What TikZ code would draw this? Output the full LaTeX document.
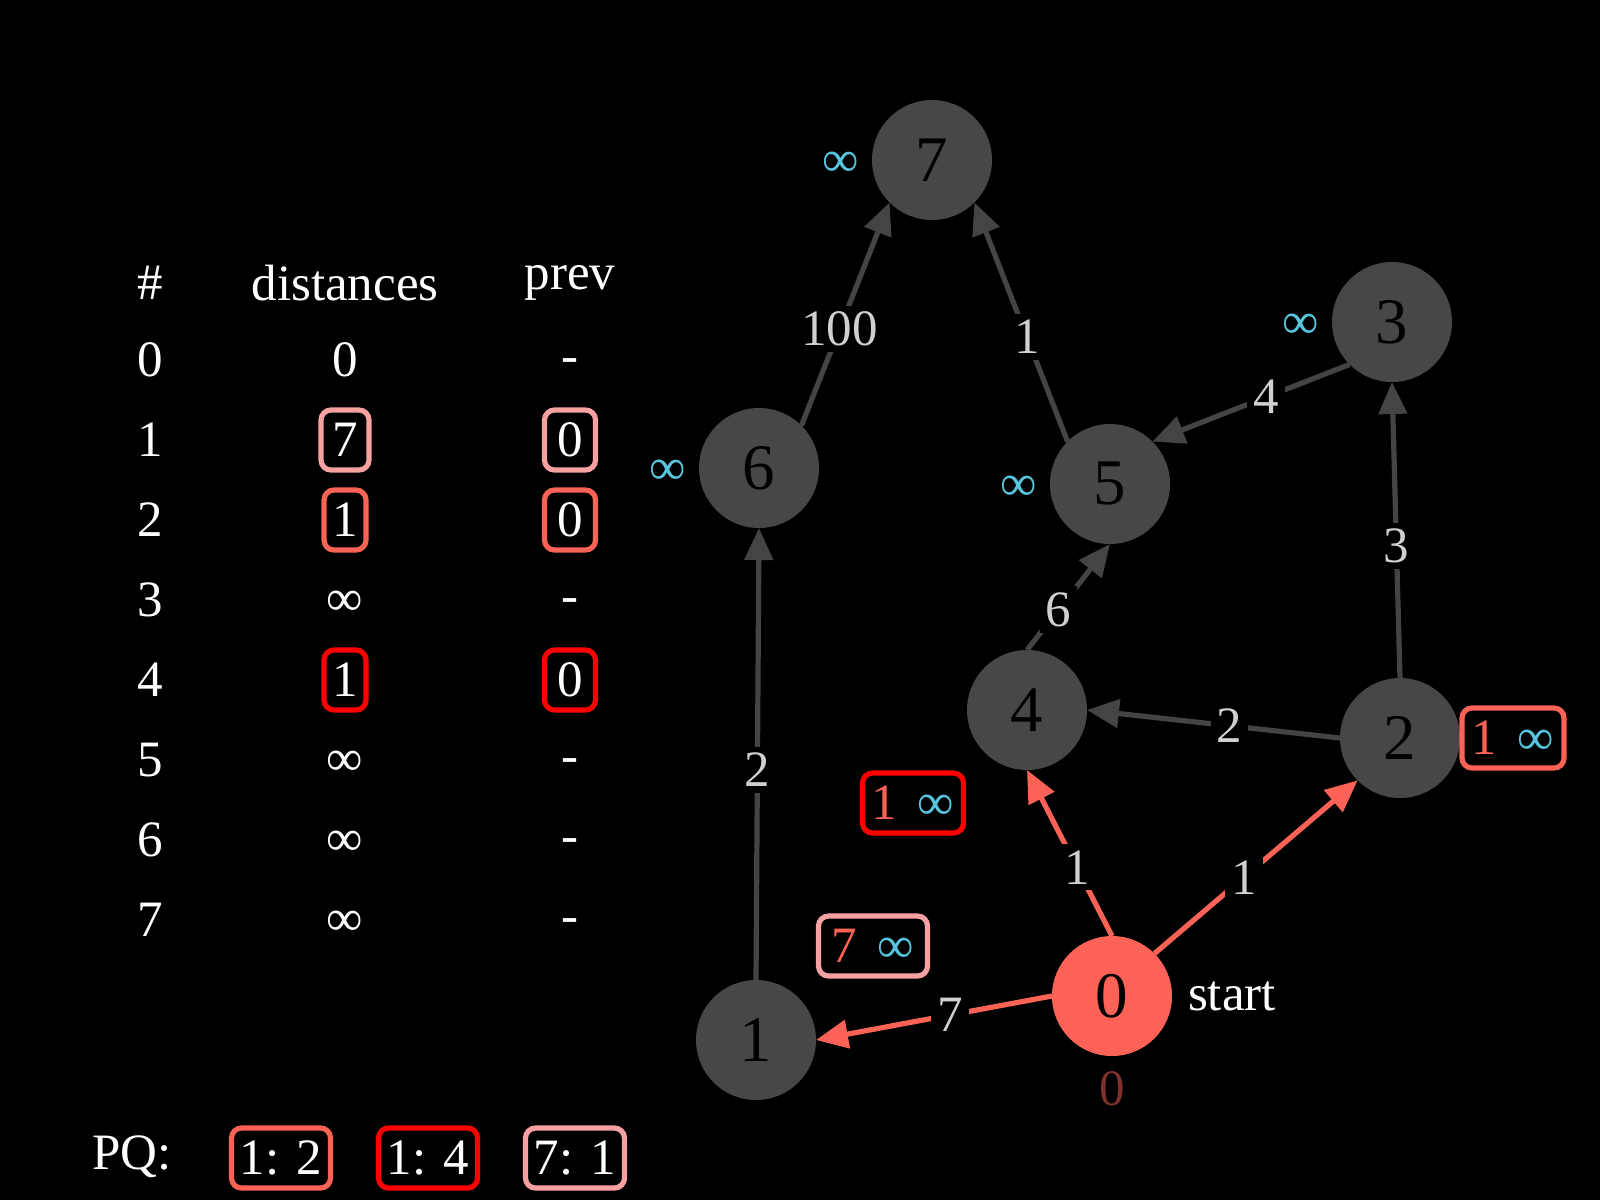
\documentclass[tikz,border=0pt]{standalone}
\usepackage{fontspec}
\setmainfont{Liberation Serif}
\usetikzlibrary{arrows.meta}
\definecolor{ngray}{HTML}{474747}
\definecolor{egray}{HTML}{444444}
\definecolor{mred}{HTML}{FC6255}
\definecolor{mpink}{HTML}{F7A1A3}
\definecolor{pred}{HTML}{FF0000}
\definecolor{mblue}{HTML}{58C4DD}
\definecolor{lbl}{HTML}{D0D0D0}
\definecolor{dred}{HTML}{7E312B}
\newcommand{\bigfnt}{\fontsize{32.5}{39}\selectfont}
\newcommand{\smfnt}{\fontsize{25.5}{30}\selectfont}
\tikzset{
  vert/.style={circle, fill=ngray, minimum size=60pt, inner sep=0pt, outer sep=0pt, font=\bigfnt, text=black},
  txt/.style={font=\smfnt, text=white, inner sep=0pt},
  inflbl/.style={font=\smfnt, text=mblue, inner sep=0pt},
  bx/.style={draw, line width=2.6pt, rounded corners=5pt, inner sep=0pt, minimum height=30pt, font=\smfnt, text=white},
  edg/.style={color=egray, line width=2.6pt, -{Triangle[length=16pt,width=14pt]}},
  redg/.style={edg, color=mred},
  wl/.style={font=\smfnt, text=lbl, fill=black, inner sep=3pt}
}
\newcommand{\dpair}[1]{{\color{mred}#1}\hspace{0.4em}{\color{mblue}∞}}
\begin{document}
\begin{tikzpicture}[x=0.5pt,y=-0.5pt]
\fill[black] (0,0) rectangle (1600,1200);
\useasboundingbox (0,0) rectangle (1600,1200);

% table header
\node[txt] (h0) at (150,283) {\#};
\node[txt] (h1) at (345,283) {distances};
\node[txt] (h2) at (570,283) {prev};
% rows
\node[txt] (r0) at (150,360) {0};
\node[txt] (d0) at (345,360) {0};
\node[txt] (p0) at (570,366) {-};
\node[txt] (r1) at (150,440) {1};
\node[bx, draw=mpink, minimum width=24pt] (d1) at (345,440) {7};
\node[bx, draw=mpink, minimum width=25.5pt] (p1) at (570,440) {0};
\node[txt] (r2) at (150,520) {2};
\node[bx, draw=mred, minimum width=21pt] (d2) at (345,520) {1};
\node[bx, draw=mred, minimum width=25.5pt] (p2) at (570,520) {0};
\node[txt] (r3) at (150,600) {3};
\node[txt] (d3) at (345,603) {∞};
\node[txt] (p3) at (570,606) {-};
\node[txt] (r4) at (150,680) {4};
\node[bx, draw=pred, minimum width=21pt] (d4) at (345,680) {1};
\node[bx, draw=pred, minimum width=25.5pt] (p4) at (570,680) {0};
\node[txt] (r5) at (150,760) {5};
\node[txt] (d5) at (345,763) {∞};
\node[txt] (p5) at (570,766) {-};
\node[txt] (r6) at (150,840) {6};
\node[txt] (d6) at (345,843) {∞};
\node[txt] (p6) at (570,846) {-};
\node[txt] (r7) at (150,920) {7};
\node[txt] (d7) at (345,923) {∞};
\node[txt] (p7) at (570,926) {-};

% priority queue
\node[txt] (pq) at (132,1157) {PQ:};
\node[bx, draw=mred, minimum width=49.5pt] (q1) at (281,1158) {1: 2};
\node[bx, draw=pred, minimum width=49.5pt] (q2) at (428,1158) {1: 4};
\node[bx, draw=mpink, minimum width=49.5pt] (q3) at (575,1158) {7: 1};

% graph vertices
\node[vert] (n7) at (932,160) {7};
\node[vert] (n3) at (1392,322) {3};
\node[vert] (n6) at (759,468) {6};
\node[vert] (n5) at (1110,484) {5};
\node[vert] (n4) at (1027,710) {4};
\node[vert] (n2) at (1400,738) {2};
\node[vert, fill=mred] (n0) at (1112,996) {0};
\node[vert] (n1) at (756,1040) {1};

% infinity labels
\node[inflbl] (i7) at (841,164) {∞};
\node[inflbl] (i3) at (1301,326) {∞};
\node[inflbl] (i6) at (668,472) {∞};
\node[inflbl] (i5) at (1019,488) {∞};
\node[txt, text=dred] (z0) at (1112,1089) {0};
\node[txt] (st) at (1232,996) {start};

% distance boxes
\node[bx, draw=pred, minimum width=50.5pt] (b4) at (913,803) {\dpair{1}};
\node[bx, draw=mpink, minimum width=54.5pt] (b1) at (873,946) {\dpair{7}};
\node[bx, draw=mred, minimum width=51pt] (b2) at (1513,738) {\dpair{1}};

% edges
\draw[edg] (n6.45) -- node[wl, pos=0.433] {100} (n7.225);
\draw[edg] (n5.135) -- node[wl, pos=0.438] {1} (n7.-45);
\draw[edg] (n3.225) -- node[wl, pos=0.424] {4} (n5.45);
\draw[edg] (n2.90) -- node[wl, pos=0.446] {3} (n3.270);
\draw[edg] (n4.90) -- node[wl, pos=0.381] {6} (n5.270);
\draw[edg] (n2.180) -- node[wl, pos=0.437] {2} (n4.0);
\draw[edg] (n1.90) -- node[wl, pos=0.465] {2} (n6.270);
\draw[redg] (n0.90) -- node[wl, pos=0.414] {1} (n4.270);
\draw[redg] (n0.45) -- node[wl, pos=0.44] {1} (n2.225);
\draw[redg] (n0.180) -- node[wl, pos=0.433] {7} (n1.0);
\end{tikzpicture}
\end{document}
